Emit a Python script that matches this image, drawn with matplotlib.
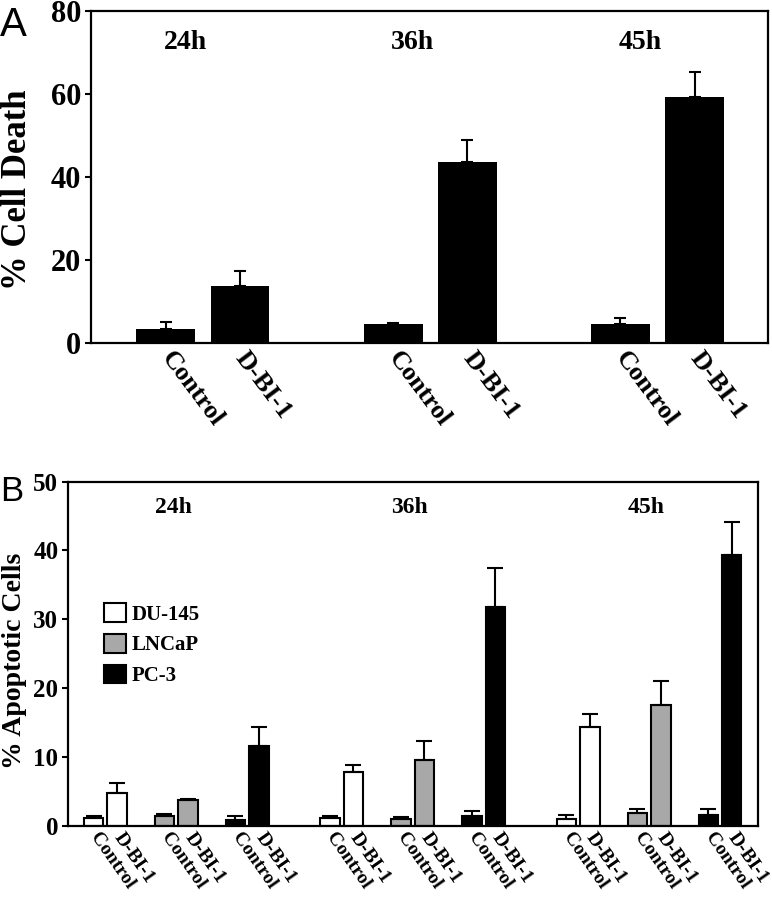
import matplotlib.pyplot as plt
import numpy as np

plt.rcParams['font.family'] = 'Liberation Serif'
plt.rcParams['font.weight'] = 'bold'
plt.rcParams['axes.labelweight'] = 'bold'

# Panel A data (% cell death)
hours = ['24h', '36h', '45h']
treat_labels = ['Control', 'D-BI-1']
death_control = [3.4, 4.5, 4.5]
death_control_err = [1.6, 0.4, 1.5]
death_dbi = [13.8, 43.6, 59.2]
death_dbi_err = [3.5, 5.2, 6.0]

# Panel B data (% apoptotic cells)
cell_lines = ['DU-145', 'LNCaP', 'PC-3']
line_colors = ['white', '#a8a8a8', 'black']
apo_control = [[1.1, 1.1, 1.0],     # DU-145 at 24h, 36h, 45h
               [1.4, 1.0, 1.85],    # LNCaP
               [0.9, 1.35, 1.6]]    # PC-3
apo_control_err = [[0.3, 0.3, 0.5],
                   [0.25, 0.25, 0.65],
                   [0.45, 0.75, 0.9]]
apo_dbi = [[4.7, 7.8, 14.4],
           [3.7, 9.5, 17.5],
           [11.6, 31.8, 39.3]]
apo_dbi_err = [[1.5, 1.0, 1.8],
               [0.25, 2.85, 3.55],
               [2.8, 5.6, 4.9]]

fig = plt.figure(figsize=(7.72, 8.99), dpi=100)

# ---------------- Panel A ----------------
axA = fig.add_axes([0.118, 0.6185, 0.877, 0.3693])
gA = 1.9 + 3.86 * np.arange(len(hours))
xc = gA - 0.63
xd = gA + 0.63
errkw = dict(ecolor='black', elinewidth=1.5, capthick=1.5)
axA.bar(xc, death_control, width=1.0, color='black',
        yerr=[np.zeros(3), death_control_err], capsize=4.5, error_kw=errkw)
axA.bar(xd, death_dbi, width=1.0, color='black',
        yerr=[np.zeros(3), death_dbi_err], capsize=4.5, error_kw=errkw)
axA.set_xlim(0, 11.5)
axA.set_ylim(0, 80)
axA.set_yticks([0, 20, 40, 60, 80])
axA.tick_params(axis='y', labelsize=22, length=4, width=1.5, pad=3)
ticksA = np.ravel(np.column_stack([xc, xd]))
axA.set_xticks(ticksA)
axA.set_xticklabels(treat_labels * 3, rotation=-53, ha='left', va='center',
                    rotation_mode='anchor', fontsize=19)
axA.tick_params(axis='x', length=0, pad=8)
axA.set_ylabel('% Cell Death', fontsize=25)
axA.yaxis.set_label_coords(-0.084, 0.46)
for s in axA.spines.values():
    s.set_linewidth(1.6)
for x, h in zip(gA - 0.3, hours):
    axA.text(x, 72.5, h, ha='center', va='center', fontsize=20)

# ---------------- Panel B ----------------
axB = fig.add_axes([0.0881, 0.0815, 0.8938, 0.3827])
group_step = 12.13
line_step = 3.64
pair = 1.2
ticksB = []
handles = []
for li, name in enumerate(cell_lines):
    pos_c = 1.31 + group_step * np.arange(3) + line_step * li
    pos_d = pos_c + pair
    b = axB.bar(pos_c, apo_control[li], width=1.0, color=line_colors[li],
                edgecolor='black', linewidth=1.5,
                yerr=[np.zeros(3), apo_control_err[li]], capsize=5.5,
                error_kw=errkw, label=name)
    axB.bar(pos_d, apo_dbi[li], width=1.0, color=line_colors[li],
            edgecolor='black', linewidth=1.5,
            yerr=[np.zeros(3), apo_dbi_err[li]], capsize=5.5, error_kw=errkw)
    handles.append(b)
    ticksB += list(pos_c) + list(pos_d)
ticksB = sorted(ticksB)
axB.set_xlim(0, 35.4)
axB.set_ylim(0, 50)
axB.set_yticks([0, 10, 20, 30, 40, 50])
axB.tick_params(axis='y', labelsize=18, length=4, width=1.5, pad=3)
axB.set_xticks(ticksB)
axB.set_xticklabels(treat_labels * 9, rotation=-55, ha='left', va='center',
                    rotation_mode='anchor', fontsize=14)
axB.tick_params(axis='x', length=0, pad=6)
axB.set_ylabel('% Apoptotic Cells', fontsize=20)
axB.yaxis.set_label_coords(-0.06, 0.479)
for s in axB.spines.values():
    s.set_linewidth(1.6)
gB = 1.31 + group_step * np.arange(3) + (2 * line_step + pair) / 2
for x, h in zip(gB - 0.15, hours):
    axB.text(x, 46.3, h, ha='center', va='center', fontsize=17)
axB.legend(handles=handles, loc='upper left', bbox_to_anchor=(0.052, 0.647),
           frameon=False, borderpad=0, borderaxespad=0, fontsize=15,
           handlelength=1.05, handleheight=1.0, labelspacing=0.45,
           handletextpad=0.3)

fig.text(0.0, 1 - 6 / 899, 'A', family='Liberation Sans', weight='normal',
         fontsize=29, va='top', ha='left')
fig.text(0.0, 1 - 475 / 899, 'B', family='Liberation Sans', weight='normal',
         fontsize=25, va='top', ha='left')

fig.savefig('out.png', dpi=100)
